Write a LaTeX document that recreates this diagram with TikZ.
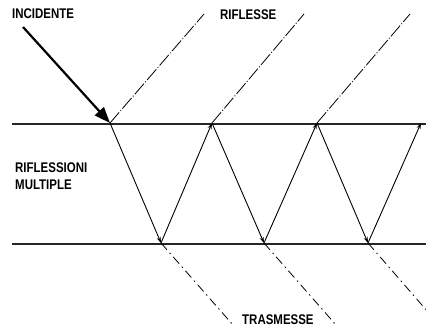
\documentclass[tikz,border=0pt]{standalone}
\usepackage{fontspec}
\setmainfont{Liberation Sans}
\newfontfamily\lblfont[FakeStretch=0.82]{Liberation Sans}
\usetikzlibrary{arrows.meta}
\begin{document}
\begin{tikzpicture}[x=1pt,y=-1pt,
  lbl/.style={font=\lblfont\fontsize{14}{17}\selectfont\bfseries, inner sep=0pt, anchor=west},
  surf/.style={line width=2.8pt, black!85},
  ray/.style={line width=0.9pt, -{Stealth[length=6pt,width=4pt]}},
  refl/.style={line width=0.8pt, dash pattern=on 14pt off 2pt on 1pt off 2pt},
  trans/.style={line width=0.8pt, dash pattern=on 9pt off 4pt on 1.5pt off 4pt}]
\useasboundingbox (0,0) rectangle (426,331);
% surfaces
\coordinate (tl) at (12,124); \coordinate (tr) at (426,124);
\coordinate (bl) at (12,244); \coordinate (br) at (426,244);
\draw[surf] (tl) -- (tr);
\draw[surf] (bl) -- (br);
% reflection points
\coordinate (t1) at (110,123); \coordinate (t2) at (212,123);
\coordinate (t3) at (317,123); \coordinate (t4) at (421,123);
\coordinate (b1) at (161,243); \coordinate (b2) at (264,243);
\coordinate (b3) at (368,243);
% incident
\coordinate (inc) at (23,27);
\draw[line width=2.2pt, -{Triangle[length=16pt,width=12pt]}] (inc) -- (t1);
% zigzag
\draw[ray] (t1) -- (b1); \draw[ray] (b1) -- (t2);
\draw[ray] (t2) -- (b2); \draw[ray] (b2) -- (t3);
\draw[ray] (t3) -- (b3); \draw[ray] (b3) -- (t4);
% reflected
\coordinate (r1) at (204,14); \coordinate (r2) at (304,14); \coordinate (r3) at (410,14);
\draw[refl] (t1) -- (r1);
\draw[refl] (t2) -- (r2);
\draw[refl] (t3) -- (r3);
% transmitted
\coordinate (s1) at (233,325); \coordinate (s2) at (336,325); \coordinate (s3) at (428,312);
\draw[trans] (b1) -- (s1);
\draw[trans] (b2) -- (s2);
\draw[trans] (b3) -- (s3);
% labels
\node[lbl] (lInc) at (12,14) {INCIDENTE};
\node[lbl] (lRif) at (220,15) {RIFLESSE};
\node[lbl, align=left, anchor=north west] (lMul) at (15,163) {RIFLESSIONI\\MULTIPLE};
\node[lbl] (lTra) at (242,320) {TRASMESSE};
\end{tikzpicture}
\end{document}
